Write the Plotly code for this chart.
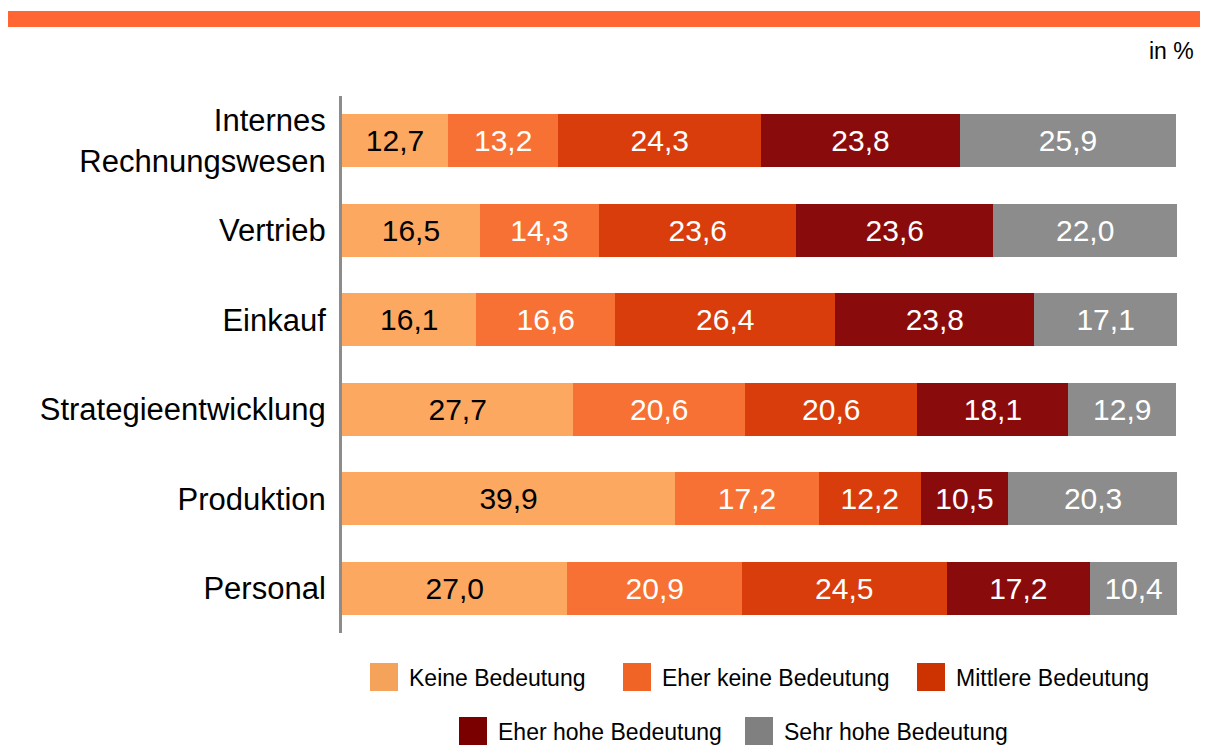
import plotly.graph_objects as go

categories = ["Internes<br>Rechnungswesen", "Vertrieb", "Einkauf",
              "Strategieentwicklung", "Produktion", "Personal"]
series_names = ["Keine Bedeutung", "Eher keine Bedeutung", "Mittlere Bedeutung",
                "Eher hohe Bedeutung", "Sehr hohe Bedeutung"]
keine = [12.7, 16.5, 16.1, 27.7, 39.9, 27.0]
eher_keine = [13.2, 14.3, 16.6, 20.6, 17.2, 20.9]
mittlere = [24.3, 23.6, 26.4, 20.6, 12.2, 24.5]
eher_hohe = [23.8, 23.6, 23.8, 18.1, 10.5, 17.2]
sehr_hohe = [25.9, 22.0, 17.1, 12.9, 20.3, 10.4]
values = [keine, eher_keine, mittlere, eher_hohe, sehr_hohe]

bar_colors = ["#FDA860", "#F77034", "#D93D0C", "#8A0B0B", "#8C8C8C"]
legend_colors = ["#F5A25A", "#F06525", "#CC3300", "#7A0000", "#808080"]
text_colors = ["black", "white", "white", "white", "white"]

OFF = 8  # page body margin
W, H = 1200, 738
L, R, T, B = 334, 31, 88, 113
FONT = "Liberation Sans, Arial, sans-serif"

fig = go.Figure()
for name, vals, col, tcol in zip(series_names, values, bar_colors, text_colors):
    fig.add_trace(go.Bar(
        y=categories, x=vals, name=name, orientation="h",
        marker=dict(color=col, line=dict(width=0)),
        texttemplate="%{x:.1f}", textposition="inside",
        insidetextanchor="middle", textangle=0, constraintext="none",
        textfont=dict(color=tcol, size=30, family=FONT),
        showlegend=False, hoverinfo="skip",
    ))

pw = W - L - R
ph = H - T - B

def px_x(px):
    return (px - OFF - L) / pw

def px_y(py):
    return (H - B - (py - OFF)) / ph

shapes = [dict(type="rect", xref="paper", yref="paper",
               x0=px_x(8), x1=px_x(1210), y0=px_y(27), y1=px_y(11),
               fillcolor="#FF6633", line=dict(width=0), layer="above")]
annotations = [dict(text="in %", xref="paper", yref="paper",
                    x=px_x(1196), y=px_y(51), xanchor="right", yanchor="middle",
                    showarrow=False, font=dict(size=23, family=FONT, color="black"))]

# manual legend: (square left px, row center px) in screen pixels
legend_pos = [(370, 677), (623, 677), (917, 677), (459, 731), (745, 731)]
sq = 28
for name, col, (lx, cy) in zip(series_names, legend_colors, legend_pos):
    shapes.append(dict(type="rect", xref="paper", yref="paper",
                       x0=px_x(lx), x1=px_x(lx + sq),
                       y0=px_y(cy + sq / 2), y1=px_y(cy - sq / 2),
                       fillcolor=col, line=dict(width=0)))
    annotations.append(dict(text=name, xref="paper", yref="paper",
                            x=px_x(lx + sq + 9), y=px_y(cy + 1),
                            xanchor="left", yanchor="middle", showarrow=False,
                            font=dict(size=23, family=FONT, color="black")))

fig.update_layout(
    barmode="stack", bargap=0.41,
    width=W, height=H,
    margin=dict(l=L, r=R, t=T, b=B, pad=0),
    paper_bgcolor="white", plot_bgcolor="white",
    separators=",.",
    font=dict(family=FONT, color="black"),
    xaxis=dict(range=[0, 100], visible=False, fixedrange=True),
    yaxis=dict(autorange="reversed", showline=True, linecolor="#8C8C8C",
               linewidth=3, ticks="", showgrid=False, zeroline=False,
               tickfont=dict(size=31, family=FONT, color="black"),
               ticklabelstandoff=7, fixedrange=True),
    shapes=shapes, annotations=annotations,
)

fig.write_html("out.html")
